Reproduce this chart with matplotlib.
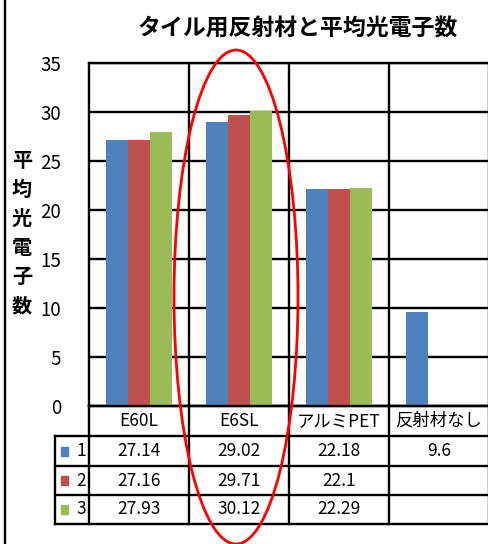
import matplotlib.pyplot as plt
from matplotlib.patches import Ellipse, Rectangle
from matplotlib.lines import Line2D

plt.rcParams['font.family'] = ['Noto Sans CJK JP', 'DejaVu Sans']

categories = ['E60L', 'E6SL', 'アルミPET', '反射材なし']
series_names = ['1', '2', '3']
s1 = [27.14, 29.02, 22.18, 9.6]
s2 = [27.16, 29.71, 22.1, None]
s3 = [27.93, 30.12, 22.29, None]
colors = ['#4F81BD', '#C0504D', '#9BBB59']
yticks = [0, 5, 10, 15, 20, 25, 30, 35]

W, H = 488, 544
fig = plt.figure(figsize=(W / 100, H / 100), dpi=100)

def box(x0, y0, x1, y1):
    # pixel box (top-left origin) -> figure rect
    return [x0 / W, 1 - y1 / H, (x1 - x0) / W, (y1 - y0) / H]

ax = fig.add_axes(box(89, 63, 489, 406))
series = [s1, s2, s3]
bw = 0.22
for k, (vals, c) in enumerate(zip(series, colors)):
    xs, hs = [], []
    for i, v in enumerate(vals):
        if v is not None:
            xs.append(i + 0.5 + (k - 1) * bw)
            hs.append(v)
    ax.bar(xs, hs, width=bw, color=c, zorder=3)

ax.set_xlim(0, 4)
ax.set_ylim(0, 35)
ax.set_yticks(yticks)
ax.set_yticklabels([str(t) for t in yticks], fontsize=13.5)
ax.tick_params(axis='y', length=0, pad=20)
ax.set_xticks([])
ax.yaxis.grid(True, color='black', lw=1.7, zorder=1)
for x in range(1, 4):
    ax.axvline(x, color='black', lw=1.7, zorder=1)
for sp in ax.spines.values():
    sp.set_color('black')
    sp.set_linewidth(1.7)

# data table under the plot
tb = fig.add_axes(box(89, 406, 489, 524))
tb.set_xlim(0, 4)
tb.set_ylim(118, 0)
tb.axis('off')
lk = dict(color='black', lw=1.7, clip_on=False, solid_capstyle='projecting')
rows_y = [0, 30, 60, 89, 118]
for x in range(0, 5):
    tb.add_line(Line2D([x, x], [0, 118], **lk))
tb.add_line(Line2D([-0.34, -0.34], [30, 118], **lk))
tb.add_line(Line2D([0, 4], [0, 0], **lk))
for y in rows_y[1:]:
    tb.add_line(Line2D([-0.34, 4], [y, y], **lk))

for i, cat in enumerate(categories):
    tb.text(i + 0.5, 15, cat, ha='center', va='center', fontsize=12.5)
for r, (vals, name, c) in enumerate(zip(series, series_names, colors)):
    yc = (rows_y[r + 1] + rows_y[r + 2]) / 2
    tb.add_patch(Rectangle((-0.28, yc - 4.5), 0.07, 9, color=c, clip_on=False))
    tb.text(-0.08, yc, name, ha='center', va='center', fontsize=12.5)
    for i, v in enumerate(vals):
        if v is not None:
            tb.text(i + 0.5, yc, f'{v:g}', ha='center', va='center', fontsize=12.5)

fig.text(298 / W, 1 - 29 / H, 'タイル用反射材と平均光電子数', ha='center', va='center',
         fontsize=16.5, fontweight='bold')
fig.text(22 / W, 1 - 233 / H, '\n'.join('平均光電子数'), ha='center', va='center',
         fontsize=14.5, fontweight='bold', linespacing=1.48)

# chart frame edge on the left
fig.add_artist(Line2D([5 / W, 5 / W], [0, 1], color='black', lw=1.7))

# highlight around E6SL
fig.add_artist(Ellipse((236 / W, 1 - 297 / H), 124 / W, 494 / H, fill=False,
                       edgecolor='red', lw=2, zorder=10))

fig.savefig('out.png', dpi=100)
